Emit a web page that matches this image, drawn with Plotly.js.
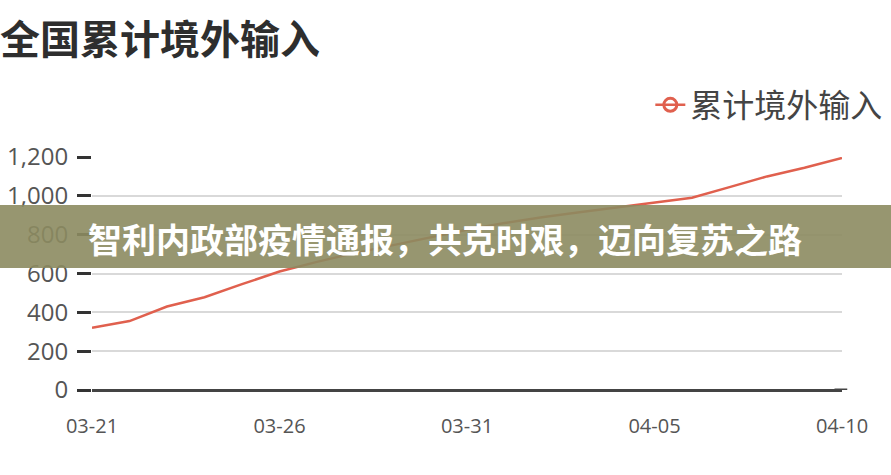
<!DOCTYPE html>
<html>
<head>
<meta charset="utf-8">
<script src="https://cdn.plot.ly/plotly-3.0.1.min.js"></script>
<style>
html,body{margin:0;padding:0;background:#fff;}
#chart{width:891px;height:475px;}
</style>
</head>
<body>
<div id="chart"></div>
<script>
const dates = ['03-21','03-22','03-23','03-24','03-25','03-26','03-27','03-28','03-29','03-30','03-31',
               '04-01','04-02','04-03','04-04','04-05','04-06','04-07','04-08','04-09','04-10'];
const imported = [320,355,430,478,545,610,660,705,745,785,825,860,890,915,940,963,990,1045,1100,1145,1195];
const xTicks = ['03-21','03-26','03-31','04-05','04-10'];
const yTicks = [0,200,400,600,800,1000,1200];
const seriesName = '累计境外输入';
const chartTitle = '全国累计境外输入';
const bannerText = '智利内政部疫情通报，共克时艰，迈向复苏之路';

const lineColor = '#e0604e';
const cjk = '"Noto Sans CJK SC", "Noto Sans", sans-serif';

const traces = [
  {
    x: dates, y: imported, type: 'scatter', mode: 'lines',
    line: {color: lineColor, width: 2.5},
    showlegend: false, hoverinfo: 'skip'
  },
  {
    x: [null], y: [null], type: 'scatter', mode: 'lines+markers',
    name: seriesName,
    line: {color: lineColor, width: 2.5},
    marker: {symbol: 'circle-open', size: 13, color: lineColor, line: {width: 3, color: lineColor}},
    showlegend: true
  }
];

const layout = {
  width: 891, height: 475,
  margin: {l: 92, r: 49, t: 157, b: 85, autoexpand: false},
  paper_bgcolor: '#ffffff', plot_bgcolor: '#ffffff',
  title: {
    text: chartTitle,
    x: 0.0, xanchor: 'left', xref: 'container',
    y: 0.915, yanchor: 'middle', yref: 'container',
    font: {family: cjk, size: 40, color: '#2e2e2e', weight: 700}
  },
  showlegend: true,
  legend: {
    xref: 'container', yref: 'container',
    x: 0.997, xanchor: 'right', y: 1 - 105 / 475, yanchor: 'middle',
    font: {family: cjk, size: 32, color: '#444444'},
    bgcolor: 'rgba(0,0,0,0)', itemwidth: 30
  },
  xaxis: {
    type: 'category',
    range: [0, dates.length - 1],
    tickvals: xTicks, ticktext: xTicks,
    showgrid: false, zeroline: false, showline: false,
    ticks: '', ticklabelstandoff: 22,
    tickfont: {family: '"Open Sans", sans-serif', size: 20, color: '#555555'},
    fixedrange: true
  },
  yaxis: {
    range: [0, 1200],
    tickvals: yTicks, tickformat: ',',
    showgrid: true, gridcolor: '#d9d9d9', gridwidth: 2,
    zeroline: true, zerolinecolor: '#444444', zerolinewidth: 3,
    showline: false,
    ticks: 'outside', ticklen: 14, tickwidth: 3, tickcolor: '#333333',
    tickfont: {family: '"Open Sans", sans-serif', size: 24, color: '#555555'},
    ticklabelstandoff: 4,
    fixedrange: true
  },
  shapes: [
    {type: 'line', xref: 'paper', yref: 'y', x0: 0.99, x1: 1.007, y0: 0, y1: 0,
     line: {color: '#444444', width: 3}, layer: 'above'},
    {type: 'rect', xref: 'paper', yref: 'paper',
     x0: -0.2, x1: 1.2,
     y0: (390 - 268) / 233, y1: (390 - 205) / 233,
     fillcolor: 'rgba(140,139,96,0.9)', line: {width: 0}, layer: 'above'}
  ],
  annotations: [
    {text: '<b>' + bannerText + '</b>', xref: 'paper', yref: 'paper',
     x: (445 - 92) / 750, y: (390 - 238) / 233, xanchor: 'center', yanchor: 'middle',
     showarrow: false,
     font: {family: cjk, size: 34, color: '#ffffff', weight: 900}}
  ]
};

Plotly.newPlot('chart', traces, layout, {displayModeBar: false, staticPlot: true});
</script>
</body>
</html>
